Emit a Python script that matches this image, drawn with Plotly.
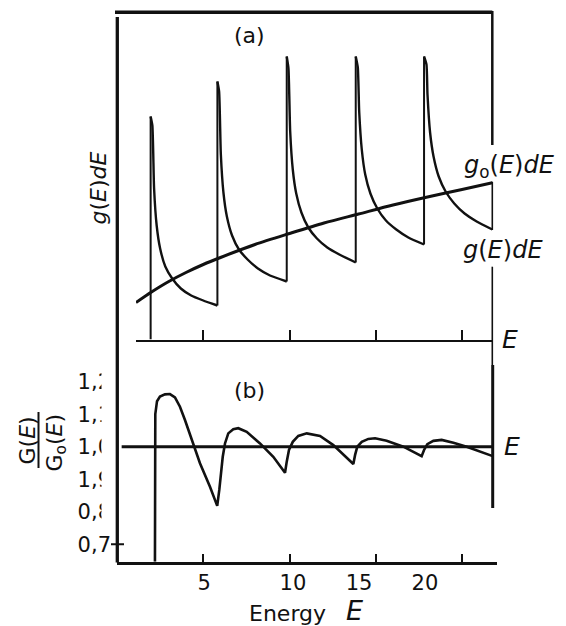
import plotly.graph_objects as go

# ---------------- data ----------------
# (a) Landau-level density of states g(E)dE and free-electron g0(E)dE
landau_E = [1.95, 5.82, 9.84, 13.84, 17.80]
peak_g = [2.23, 2.58, 2.83, 2.83, 2.83]

seg1_E = [2.05, 2.15, 2.30, 2.50, 2.80, 3.20, 3.70, 4.30, 5.00, 5.82]
seg1_g = [2.14, 1.51, 1.14, 0.91, 0.73, 0.61, 0.51, 0.44, 0.39, 0.34]
seg2_E = [5.92, 6.02, 6.17, 6.37, 6.67, 7.07, 7.57, 8.17, 8.87, 9.84]
seg2_g = [2.48, 1.85, 1.47, 1.23, 1.04, 0.90, 0.80, 0.71, 0.64, 0.58]
seg3_E = [9.94, 10.04, 10.19, 10.39, 10.69, 11.09, 11.59, 12.19, 12.89, 13.84]
seg3_g = [2.71, 2.08, 1.70, 1.46, 1.27, 1.12, 1.01, 0.92, 0.85, 0.77]
seg4_E = [13.96, 14.04, 14.19, 14.39, 14.69, 15.09, 15.59, 16.19, 16.89, 17.80]
seg4_g = [2.72, 2.28, 1.90, 1.65, 1.46, 1.31, 1.19, 1.10, 1.02, 0.95]
seg5_E = [17.94, 18.00, 18.15, 18.35, 18.65, 19.05, 19.55, 20.15, 20.85, 21.76]
seg5_g = [2.75, 2.45, 2.07, 1.83, 1.63, 1.48, 1.36, 1.26, 1.18, 1.10]

g0_E = [1.10, 2, 3, 4, 5, 6, 8, 10, 12, 14, 16, 18, 20, 21.76]
g0_g = [0.37, 0.475, 0.58, 0.67, 0.75, 0.82, 0.95, 1.06, 1.165, 1.255, 1.345, 1.425, 1.50, 1.567]

# (b) ratio G(E)/G0(E)
ratio_E = [2.20, 2.22, 2.32, 2.49, 2.78, 3.07, 3.36, 3.65, 3.94, 4.42, 4.81, 5.39, 5.81,
           5.93, 6.01, 6.13, 6.26, 6.45, 6.74, 7.03, 7.52, 8.29, 9.06, 9.74,
           9.84, 9.97, 10.19, 10.51, 11.00, 11.77, 12.54, 13.70,
           13.80, 13.93, 14.19, 14.57, 14.96, 15.63, 16.60, 17.66,
           17.80, 17.99, 18.34, 18.82, 19.50, 20.27, 21.78]
ratio_val = [0.646, 1.10, 1.140, 1.154, 1.161, 1.162, 1.152, 1.123, 1.082, 1.005, 0.949, 0.877, 0.818,
             0.867, 0.918, 0.969, 1.010, 1.041, 1.054, 1.057, 1.046, 1.010, 0.969, 0.920,
             0.954, 0.990, 1.015, 1.033, 1.041, 1.033, 1.005, 0.947,
             0.974, 1.000, 1.015, 1.024, 1.026, 1.018, 1.000, 0.971,
             0.990, 1.008, 1.018, 1.021, 1.012, 1.000, 0.971]
unity_E = [0.27, 21.78]
unity_val = [1.0, 1.0]

# axis ticks / labels
x_tick_vals = [5, 10, 15, 20]
x_label_pos = [5.06, 10.2, 14.03, 17.85]
x_label_text = ["5", "10", "15", "20"]
y_tick_vals = [1.2, 1.1, 1.0, 0.9, 0.8, 0.7]
y_tick_text = ["1,2", "1,1", "1,0", "1,9", "0,8", "0,7"]
y_marked_tick = 0.7

# ---------------- layout helpers (pixel -> paper) ----------------
W, H = 566, 626
def px(p):
    return p / W
def py(p):
    return 1 - p / H

FONT = "DejaVu Sans"
BLACK = "#111111"

fig = go.Figure()

# g0(E)dE
fig.add_trace(go.Scatter(x=g0_E, y=g0_g, mode="lines", xaxis="x", yaxis="y",
                         line=dict(color=BLACK, width=3, shape="spline", smoothing=0.8),
                         hoverinfo="skip"))

# vertical rises of g(E)dE at each Landau level
segs_E = [seg1_E, seg2_E, seg3_E, seg4_E, seg5_E]
segs_g = [seg1_g, seg2_g, seg3_g, seg4_g, seg5_g]
rise_x, rise_y = [], []
prev = 0.0
for En, pk, sg in zip(landau_E, peak_g, segs_g):
    rise_x += [En, En, None]
    rise_y += [prev, pk, None]
    prev = sg[-1]
fig.add_trace(go.Scatter(x=rise_x, y=rise_y, mode="lines", xaxis="x", yaxis="y",
                         line=dict(color=BLACK, width=2), hoverinfo="skip"))

# decaying branches
for En, pk, sE, sg in zip(landau_E, peak_g, segs_E, segs_g):
    fig.add_trace(go.Scatter(x=[En] + sE, y=[pk] + sg, mode="lines", xaxis="x", yaxis="y",
                             line=dict(color=BLACK, width=2.4, shape="spline", smoothing=0.5),
                             hoverinfo="skip"))

# (b) unity line (on the label axis x3) and ratio curve
fig.add_trace(go.Scatter(x=unity_E, y=unity_val, mode="lines", xaxis="x3", yaxis="y2",
                         line=dict(color=BLACK, width=3), hoverinfo="skip"))
fig.add_trace(go.Scatter(x=ratio_E, y=ratio_val, mode="lines", xaxis="x2", yaxis="y2",
                         line=dict(color=BLACK, width=2.6), hoverinfo="skip"))

x_top_lo = (136 - 117) / 17.25
x_top_hi = (492.3 - 117) / 17.25
x_bot_hi = (497 - 117) / 17.25
y_top_hi = (339.5 - 12.3) / 100
y_bot_lo = 1 - (561.7 - 446.7) / 325
y_bot_hi = 1 + (446.7 - 360) / 325

common = dict(showgrid=False, zeroline=False, linecolor=BLACK, tickcolor=BLACK)

fig.update_layout(
    width=W, height=H, margin=dict(l=0, r=0, t=0, b=0),
    paper_bgcolor="white", plot_bgcolor="white", showlegend=False,
    font=dict(family=FONT, color=BLACK, size=21),
    xaxis=dict(domain=[px(136), px(492.3)], range=[x_top_lo, x_top_hi], anchor="y",
               showline=True, linewidth=2, ticks="inside", ticklen=10, tickwidth=1.5,
               tickvals=x_tick_vals, showticklabels=False, **common),
    yaxis=dict(domain=[py(339.5), py(12.3)], range=[0, y_top_hi], anchor="x",
               showline=False, ticks="", showticklabels=False, tickvals=[],
               showgrid=False, zeroline=False),
    xaxis2=dict(domain=[px(117), px(497)], range=[0, x_bot_hi], anchor="y2",
                showline=True, linewidth=2.5, ticks="inside", ticklen=8, tickwidth=2,
                tickvals=x_tick_vals, showticklabels=False, **common),
    xaxis3=dict(domain=[px(117), px(497)], range=[0, x_bot_hi], anchor="y2", overlaying="x2",
                side="bottom", showline=False, ticks="", tickvals=x_label_pos,
                ticktext=x_label_text, ticklabelstandoff=6,
                tickfont=dict(family=FONT, size=21, color=BLACK), **common),
    yaxis2=dict(domain=[py(561.7), py(360)], range=[y_bot_lo, y_bot_hi], anchor="x2",
                showline=False, ticks="", tickvals=y_tick_vals, ticktext=y_tick_text,
                ticklabelstandoff=5, tickfont=dict(family=FONT, size=21, color=BLACK), **common),
)

# ---------------- frame lines (scanned figure box) ----------------
def seg(x0, y0, x1, y1, w):
    fig.add_shape(type="line", xref="paper", yref="paper",
                  x0=px(x0), y0=py(y0), x1=px(x1), y1=py(y1),
                  line=dict(color=BLACK, width=w), layer="above")

# cover for the clipped y tick labels (as in the scan)
fig.add_shape(type="rect", xref="paper", yref="paper", x0=px(101.5), x1=px(115.3),
              y0=py(530), y1=py(372), fillcolor="white", line=dict(width=0), layer="above")

seg(115, 12.3, 492.3, 12.3, 3.5)       # top
seg(117.3, 17, 117.3, 562.5, 3.3)      # left
seg(492.3, 11, 492.3, 145, 2.5)        # right, upper
seg(492.3, 181.7, 492.3, 230, 1.6)
seg(492.3, 266.7, 492.3, 365, 1.6)
seg(492.7, 365, 492.7, 508, 3)
seg(38.5, 412, 38.5, 468, 2)           # fraction bar

# the single tick mark on the ratio axis (0,7)
fig.add_shape(type="line", xref="paper", yref="y2", x0=px(111), x1=px(124),
              y0=y_marked_tick, y1=y_marked_tick, line=dict(color=BLACK, width=2), layer="above")

# ---------------- texts ----------------
def ann(text, x, y, size, xanchor="center", angle=0):
    fig.add_annotation(text=text, xref="paper", yref="paper", x=px(x), y=py(y),
                       xanchor=xanchor, yanchor="middle", showarrow=False, textangle=angle,
                       font=dict(family=FONT, size=size, color=BLACK))

ann("(a)", 250, 35, 22)
ann("(b)", 249, 391, 22)
ann("<i>g</i>(<i>E</i>)<i>dE</i>", 97.5, 188, 22, angle=-90)
ann("<i>g</i><sub>o</sub>(<i>E</i>)<i>dE</i>", 462, 166, 24, xanchor="left")
ann("<i>g</i>(<i>E</i>)<i>dE</i>", 461, 250, 24, xanchor="left")
ann("<i>E</i>", 500, 339, 25, xanchor="left")
ann("<i>E</i>", 501.7, 446, 25, xanchor="left")
ann("Energy", 247, 613, 22, xanchor="left")
ann("<i>E</i>", 344, 610, 27, xanchor="left")
ann("G(<i>E</i>)", 26.5, 441, 22, angle=-90)
ann("G<sub>o</sub>(<i>E</i>)", 55.5, 443, 22, angle=-90)

fig.write_html("out.html")
